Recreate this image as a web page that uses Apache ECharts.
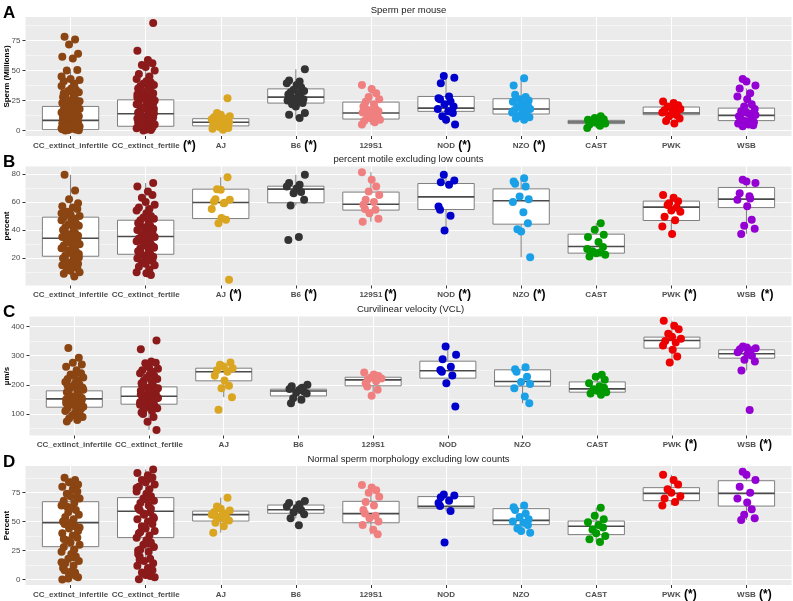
<!DOCTYPE html>
<html>
<head>
<meta charset="utf-8">
<script src="https://cdn.jsdelivr.net/npm/echarts@6/dist/echarts.min.js"></script>
<style>
  html, body { margin: 0; padding: 0; background: #fff; }
  #main { width: 793px; height: 601px; }
</style>
</head>
<body>
<div id="main"></div>
<script>
// strains, in axis order
var categories = ["CC_extinct_infertile", "CC_extinct_fertile", "AJ", "B6", "129S1", "NOD", "NZO", "CAST", "PWK", "WSB"];
var colors = ["#8B4513", "#8B1A1A", "#DAA520", "#333333", "#F08080", "#0000CD", "#1AA0E6", "#009900", "#EE0000", "#9400D3"];

// ---- A: sperm per mouse ----
// box stats: [lower whisker, Q1, median, Q3, upper whisker]
var spermBox = [
  [0, 0.8, 8.5, 20.1, 49], [0, 3.6, 14, 25.6, 58], [0.8, 3.9, 6.9, 9.9, 14.6], [10, 22.9, 27.8, 34.7, 51],
  [5, 9.6, 14.6, 23.7, 38], [5, 16, 18.7, 28.4, 45.5], [9, 13.8, 17.9, 26.5, 43.6], [2.2, 5.8, 7.2, 8.5, 11.9],
  [5.8, 13.2, 14.6, 19.6, 24.3], [3.6, 8.3, 12.7, 18.7, 35]
];
var spermPts = [
  [78, 75.8, 71.7, 64, 61.5, 60, 50.5, 50, 43, 42, 41, 39, 37, 35, 34, 33, 32, 30, 29, 28, 27, 26, 25, 24, 23, 22, 21, 20, 19, 18, 17.5, 16, 15, 14, 13, 12.5, 12, 11, 10, 9.5, 9, 8, 7.5, 7, 6, 5.5, 5, 4.5, 4, 3.5, 3, 2.5, 2, 1.5, 1, 0.5, 0.2, 0, 10.5, 11.5, 13.5, 6.5, 3.2, 2.2, 1.2, 4.2, 8.5, 15.5, 19.5, 24.5, 31, 36, 45],
  [89.6, 66.4, 58.7, 56, 54.6, 53, 50, 47, 45, 43, 41, 40, 39, 38, 37, 36, 35, 34, 33, 32, 31, 30, 29, 28, 27, 26, 25, 24, 23, 22, 21, 20, 19, 18, 17, 16, 15, 14, 13, 12, 11, 10, 9, 8, 7, 6, 5, 4, 3, 2, 1, 0.5, 0, 14.5, 12.5, 9.5, 6.5, 3.5, 1.5, 18.5, 22.5, 27.5, 33.5, 2.5, 4.5, 7.5],
  [27, 14.6, 13.2, 12, 11, 10, 9.5, 9, 8.5, 8, 7, 6.5, 6, 5, 4.5, 3.6, 3, 2.2, 1.5, 0.8],
  [51, 41.6, 40.8, 39.4, 38, 36, 34, 33, 32, 31, 30, 29, 28, 27, 26, 25, 24, 23, 22, 20, 14.6, 13.2, 10.5],
  [38, 34.5, 31, 28, 26, 24, 22, 20, 19, 18, 17, 16, 15, 13, 12, 11, 10, 9, 8, 7, 5],
  [45.5, 44, 39.4, 28.4, 27, 26, 24.3, 22, 20, 18, 16, 14.6, 11.9, 9, 5],
  [43.6, 37.5, 29.8, 28, 26, 25, 24, 22, 21, 20, 19, 18, 17, 16, 15, 14, 13, 12, 11, 10, 9],
  [11.9, 10.5, 9.5, 9, 8, 7.5, 7, 6.5, 6, 5, 4, 2.2],
  [24.3, 23, 21, 20, 19, 18, 17, 16, 15, 14, 13, 12, 10, 8, 5.8],
  [43, 40.8, 37.5, 35, 31, 28.4, 26, 22, 20, 18, 16, 14, 12, 10, 9, 8, 7, 6, 5, 4.5, 3.6, 15, 13]
];
var spermStars = ["", " (*)", "", " (*)", "", " (*)", " (*)", "", "", ""];

// ---- B: percent motile ----
var motileBox = [
  [7, 21.4, 34.2, 49.2, 79.3], [8, 22.8, 35.4, 47, 73.4], [44.9, 48.2, 59.6, 69.1, 77.6], [57.5, 59.4, 69.1, 71.2, 79.3],
  [46, 54.2, 58.4, 67, 81.2], [39.7, 54.6, 63.6, 73.1, 79.3], [20.7, 44.2, 60.8, 69.3, 76.9], [21.2, 23.6, 28.3, 37.1, 44.9],
  [37.3, 46.8, 56.3, 60.6, 65], [37.3, 56, 62, 70.3, 75.7]
];
var motilePts = [
  [79.3, 68.1, 62, 59, 57, 56, 55, 53, 51, 50, 49, 48, 47, 46, 45, 44, 43, 42, 41, 40, 39, 38, 37, 36, 35, 34, 33, 32, 31, 30, 29, 28, 27, 26, 25, 24, 23, 22, 21, 20, 19, 18, 17, 16, 15, 14, 13, 12, 11, 10, 9, 7, 52, 48.5, 36.5, 25.5, 20.5, 17.5],
  [73.4, 71, 67.4, 65, 63, 60, 58, 56, 55, 54, 52, 50, 49, 48, 47, 46, 45, 44, 43, 42, 41, 40, 39, 38, 37, 36, 35, 34, 33, 32, 31, 30, 29, 28, 27, 26, 25, 24, 23, 22, 21, 20, 19, 18, 17, 16, 15, 14, 12, 10, 9.3, 8, 31.5, 27.5, 23.5, 19.5],
  [77.6, 69, 68.6, 61.5, 60.3, 59.5, 54.9, 48.5, 47.3, 44.9, 4.6, 62, 59],
  [79.3, 73.4, 72.2, 71, 69.5, 67, 66.2, 61.5, 57.5, 35, 33],
  [81.2, 75.7, 71, 67.4, 65, 61.5, 60, 58, 55, 54.4, 52, 48, 46],
  [79.3, 75.3, 74, 72.2, 56.8, 54.4, 50.1, 39.7],
  [76.9, 74.5, 73, 71, 63.9, 62, 60, 52.7, 44.9, 40.6, 39, 20.7],
  [44.9, 40.2, 36.6, 35, 31.5, 28, 25, 23.5, 22.4, 21.2, 24, 26.5],
  [65, 63, 60.5, 57.9, 54, 53, 49.5, 47, 42.5, 37.3, 56, 59],
  [75.7, 74.5, 73.5, 66.2, 62.5, 61.5, 57, 47.3, 43, 41, 37.3, 64]
];
var motileStars = ["", "", " (*)", " (*)", "(*)", " (*)", " (*)", "", " (*)", "  (*)"];

// ---- C: curvilinear velocity ----
var vclBox = [
  [74, 123.4, 152, 179.4, 262], [45.7, 133.7, 161, 193, 280], [157.7, 213.7, 244.6, 257, 276.6], [137, 162, 179, 185, 200],
  [162.3, 196.6, 217, 226, 242], [205.7, 222.9, 248, 281, 331], [137, 195.4, 211.4, 251.4, 260.6], [165.7, 174.9, 186.3, 210, 234.3],
  [276.6, 325.7, 352, 363.4, 419.4], [249, 291.4, 306.3, 320, 331]
];
var vclPts = [
  [325.9, 293, 276, 270, 262, 250, 240, 235, 230, 225, 220, 215, 210, 205, 200, 195, 190, 185, 180, 175, 170, 165, 160, 155, 150, 145, 140, 135, 130, 125, 120, 115, 110, 105, 100, 95, 90, 85, 80, 74.3, 172, 162, 152, 148, 138, 128, 118, 143, 157, 183, 197, 212],
  [352, 322, 280, 276, 274, 260, 255, 250, 245, 240, 235, 230, 225, 220, 215, 210, 205, 200, 195, 190, 185, 180, 175, 170, 165, 160, 155, 150, 145, 140, 135, 130, 125, 120, 115, 110, 105, 100, 90, 74, 45.7, 168, 158, 152, 148, 178, 188, 198, 142, 132],
  [276.6, 268.6, 262, 257, 250, 245, 231, 214.9, 196.6, 188.6, 157.7, 114.3],
  [200, 195, 190, 186, 182, 178, 174, 170, 154, 148.6, 137],
  [242, 235, 230, 225, 222, 218, 212, 205, 194, 183, 162.3],
  [331, 302.9, 288, 262, 251, 245, 232, 205.7, 125.7],
  [260.6, 253.7, 245, 228, 210, 203, 188.6, 160, 137],
  [234.3, 228, 217, 205, 195, 190, 185, 180, 175, 170, 165.7],
  [419.4, 402, 390, 375, 365, 358, 350, 345, 335, 320, 297, 276.6],
  [331, 328, 325, 322, 318, 312, 305, 300, 285.7, 280, 249, 114]
];
var vclStars = ["", "", "", "", "", "", "", "", " (*)", " (*)"];

// ---- D: normal morphology ----
var morphBox = [
  [0, 28.4, 49.1, 67.2, 87.9], [0.3, 36.2, 58.9, 70.7, 95], [40.5, 50.5, 56, 59.1, 70.7], [52.8, 57.2, 60.3, 64.3, 67.8],
  [39, 49, 56.9, 67.5, 81.6], [59.1, 61.7, 63.2, 71.6, 73.5], [40.5, 47.4, 51.1, 61.2, 64], [32.4, 38.8, 46, 50.5, 62],
  [64, 68.1, 74.4, 79.3, 90.5], [51.4, 63.4, 74.4, 85.3, 93.1]
];
var morphPts = [
  [87.9, 86, 84, 82, 80, 78, 76, 74, 72, 70, 68, 66, 64, 62, 60, 58, 56, 54, 52, 50, 48, 46, 44, 42, 40, 38, 36, 34, 32, 30, 28, 26, 24, 22, 20, 18, 16, 14, 12, 10, 8, 6, 4, 2, 0, 83, 71, 63, 49, 45, 35, 19, 15, 7, 3, 1],
  [95, 92, 90, 88, 86, 84, 82, 80, 78, 76, 74, 72, 70, 68, 66, 64, 62, 60, 58, 56, 54, 52, 50, 48, 46, 44, 42, 40, 38, 36, 34, 32, 30, 28, 26, 24, 22, 20, 18, 16, 14, 12, 10, 8, 6, 4, 2, 0.3, 87, 79, 69, 61, 57, 53, 41, 31, 25, 17, 3],
  [70.7, 63, 61, 59.5, 58, 57, 56, 55, 54, 53, 51, 49, 46, 40.5, 55.5, 52],
  [67.8, 66, 65, 63, 61.5, 60, 58, 56.3, 52.8, 46.8],
  [81.6, 79.5, 77, 75, 71.5, 67, 64, 60, 57, 55, 53, 50, 47, 43, 39],
  [73.5, 72.5, 71, 68, 66, 63.4, 59.1, 31.9],
  [64, 62.5, 60, 57, 54, 52, 50, 49, 47, 44, 42, 40.5],
  [62, 55, 52, 49.5, 47, 45, 43, 40, 37.6, 34.7, 32.4],
  [90.5, 85.9, 82, 78, 75, 72, 70, 67, 64],
  [93.1, 90.5, 86, 80, 75, 70, 66.5, 60.6, 56, 53, 51.4]
];
var morphStars = ["", "", "", "", "", "", "", "", " (*)", " (*)"];

// fixed horizontal jitter pattern (category units)
var JIT = [-0.08, 0.06, -0.02, 0.1, -0.11, 0.03, 0.09, -0.05, 0.0, 0.12, -0.09, 0.05, -0.12, 0.01, 0.07, -0.03, 0.11, -0.07, 0.04, -0.1];

var panels = [
  { letter: "A", title: "Sperm per mouse", yName: "Sperm (Millions)", min: -4.5, max: 94.5,
    major: [0, 25, 50, 75], minor: [12.5, 37.5, 62.5, 87.5], box: spermBox, pts: spermPts, stars: spermStars,
    left: 25.5, top: 17, width: 766 },
  { letter: "B", title: "percent motile excluding low counts", yName: "percent", min: 0.6, max: 85.2,
    major: [20, 40, 60, 80], minor: [10, 30, 50, 70], box: motileBox, pts: motilePts, stars: motileStars,
    left: 25.5, top: 166.5, width: 766 },
  { letter: "C", title: "Curvilinear velocity (VCL)", yName: "µm/s", min: 26.5, max: 434,
    major: [100, 200, 300, 400], minor: [50, 150, 250, 350], box: vclBox, pts: vclPts, stars: vclStars,
    left: 29.5, top: 316.5, width: 762 },
  { letter: "D", title: "Normal sperm morphology excluding low counts", yName: "Percent", min: -4.7, max: 98,
    major: [0, 25, 50, 75], minor: [12.5, 37.5, 62.5, 87.5], box: morphBox, pts: morphPts, stars: morphStars,
    left: 25.5, top: 466, width: 766 }
];

var FONT = "'Liberation Sans', Arial, sans-serif";
var catIdx = categories.map(function (c, i) { return i; });
var PLOT_H = 119;

var nameRich = { fontSize: 8, fontWeight: "bold", fontFamily: FONT, lineHeight: 13, verticalAlign: "middle" };
var starRich = { fontSize: 12, fontWeight: "bold", color: "#000", fontFamily: FONT, lineHeight: 13, verticalAlign: "middle" };

var grids = [], xAxes = [], yAxes = [], series = [], graphics = [];

panels.forEach(function (p, k) {
  grids.push({
    left: p.left, top: p.top, width: p.width, height: PLOT_H,
    outerBoundsMode: "none", containLabel: false,
    show: true, backgroundColor: "#EBEBEB", borderWidth: 0
  });

  // strain names, centred on the ticks
  xAxes.push({
    type: "value", gridIndex: k, min: -0.6, max: 9.6, position: "bottom",
    axisLine: { show: false, onZero: false },
    axisTick: { show: true, customValues: catIdx, length: 3, lineStyle: { color: "#333333", width: 1 } },
    axisLabel: {
      customValues: catIdx, margin: 3, hideOverlap: false, showMinLabel: true, showMaxLabel: true,
      formatter: function (v) { return "{n|" + categories[Math.round(v)] + "}"; },
      rich: { n: Object.assign({ color: "#4D4D4D" }, nameRich) }
    },
    splitLine: { show: true, lineStyle: { color: "#FFFFFF", width: 1 } }
  });
  // "(*)" marks appended after the names (name drawn invisible to keep the offset)
  var starIdx = catIdx.filter(function (i) { return p.stars[i]; });
  xAxes.push({
    type: "value", gridIndex: k, min: -0.6, max: 9.6, position: "bottom",
    axisLine: { show: false, onZero: false },
    axisTick: { show: false },
    splitLine: { show: false },
    axisLabel: {
      customValues: starIdx, margin: 3, hideOverlap: false, showMinLabel: true, showMaxLabel: true,
      formatter: function (v) {
        var i = Math.round(v);
        return "{p|}{h|" + categories[i] + "}{s|" + p.stars[i] + "}";
      },
      rich: {
        h: Object.assign({ color: "rgba(0,0,0,0)" }, nameRich),
        s: starRich,
        p: { width: 16, lineHeight: 13 }
      }
    }
  });

  // main y axis (major grid, labels)
  yAxes.push({
    type: "value", gridIndex: k, min: p.min, max: p.max, position: "left",
    axisLine: { show: false, onZero: false },
    axisTick: { show: true, customValues: p.major, length: 3, lineStyle: { color: "#333333" } },
    axisLabel: { customValues: p.major, margin: 5, fontSize: 8, color: "#4D4D4D", fontFamily: FONT,
      showMinLabel: true, showMaxLabel: true },
    splitLine: { show: true, lineStyle: { color: "#FFFFFF", width: 1 } }
  });
  // minor grid lines
  yAxes.push({
    type: "value", gridIndex: k, min: p.min, max: p.max, position: "left",
    axisLine: { show: false, onZero: false },
    axisTick: { show: false, customValues: p.minor },
    axisLabel: { show: false },
    splitLine: { show: true, lineStyle: { color: "#FFFFFF", width: 0.5 } }
  });

  var boxData = p.box.map(function (b, i) { return [i, b[0], b[1], b[2], b[3], b[4]]; });
  series.push({
    type: "custom", xAxisIndex: 2 * k, yAxisIndex: 2 * k, z: 2, silent: true,
    encode: { x: 0, y: [1, 2, 3, 4, 5] },
    data: boxData,
    renderItem: function (params, api) {
      var x = api.value(0);
      var lo = api.value(1), q1 = api.value(2), med = api.value(3), q3 = api.value(4), hi = api.value(5);
      var tl = api.coord([x - 0.375, q3]);
      var br = api.coord([x + 0.375, q1]);
      var mL = api.coord([x - 0.375, med]);
      var mR = api.coord([x + 0.375, med]);
      var cTop = api.coord([x, q3]), cHi = api.coord([x, hi]);
      var cBot = api.coord([x, q1]), cLo = api.coord([x, lo]);
      var grey = "#7F7F7F";
      return {
        type: "group",
        children: [
          { type: "line", shape: { x1: cTop[0], y1: cTop[1], x2: cHi[0], y2: cHi[1] }, style: { stroke: grey, lineWidth: 1 } },
          { type: "line", shape: { x1: cBot[0], y1: cBot[1], x2: cLo[0], y2: cLo[1] }, style: { stroke: grey, lineWidth: 1 } },
          { type: "rect", shape: { x: tl[0], y: tl[1], width: br[0] - tl[0], height: br[1] - tl[1] },
            style: { fill: "#FFFFFF", stroke: grey, lineWidth: 1 } },
          { type: "line", shape: { x1: mL[0], y1: mL[1], x2: mR[0], y2: mR[1] }, style: { stroke: "#4A4A4A", lineWidth: 1.6 } }
        ]
      };
    }
  });

  p.pts.forEach(function (vals, i) {
    series.push({
      type: "scatter", xAxisIndex: 2 * k, yAxisIndex: 2 * k, z: 3, silent: true,
      symbolSize: 8,
      itemStyle: { color: colors[i], opacity: 1 },
      data: vals.map(function (v, j) { return [i + JIT[(j + i * 3) % JIT.length], v]; })
    });
  });

  graphics.push({
    type: "text", x: 3, y: p.top - 4,
    style: { text: p.letter, fontSize: 17, fontWeight: "bold", fill: "#000", fontFamily: FONT, textVerticalAlign: "middle" }
  });
  graphics.push({
    type: "text", x: p.left + p.width / 2, y: p.top - 7,
    style: { text: p.title, fontSize: 9.5, fill: "#1A1A1A", fontFamily: FONT, textAlign: "center", textVerticalAlign: "middle" }
  });
  // y axis title, rotated
  graphics.push({
    type: "text", x: 6.5, y: p.top + PLOT_H / 2, rotation: Math.PI / 2,
    style: { text: p.yName, fontSize: 8, fontWeight: "bold", fill: "#000", fontFamily: FONT, textAlign: "center", textVerticalAlign: "middle" }
  });
});

var myChart = echarts.init(document.getElementById("main"), null, { renderer: "canvas" });
var option = {
  animation: false,
  grid: grids,
  xAxis: xAxes,
  yAxis: yAxes,
  series: series,
  graphic: graphics
};
myChart.setOption(option);
window.addEventListener("resize", myChart.resize);
</script>
</body>
</html>
